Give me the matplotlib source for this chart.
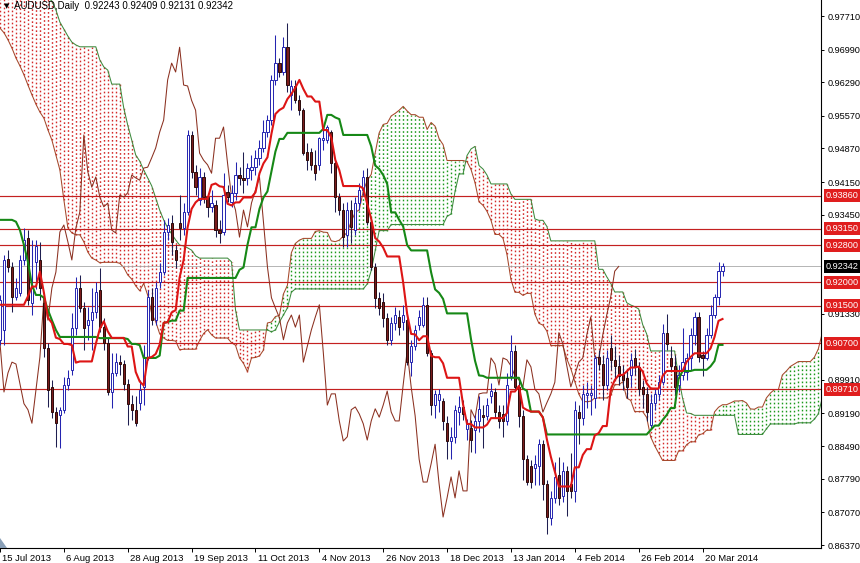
import numpy as np
import pandas as pd
import matplotlib
matplotlib.use("Agg")
import matplotlib.pyplot as plt
import matplotlib.transforms as mtransforms
from matplotlib.patches import Polygon

plt.rcParams['lines.scale_dashes'] = False
plt.rcParams['font.family'] = ['Liberation Sans', 'DejaVu Sans']

# ---------------- data (AUDUSD daily) ----------------
opens = [0.9077,0.9098,0.9250,0.9233,0.9169,0.9177,0.9248,0.9295,0.9156,0.9244,
         0.9248,0.9156,0.9059,0.8976,0.8922,0.8916,0.8927,0.8980,0.9012,0.9102,
         0.9188,0.9145,0.9109,0.9119,0.9136,0.9184,0.9104,0.9070,0.8965,0.9006,
         0.9029,0.9025,0.8982,0.8940,0.8927,0.8941,0.8976,0.9040,0.9169,0.9119,
         0.9201,0.9222,0.9308,0.9327,0.9269,0.9327,0.9316,0.9351,0.9516,0.9437,
         0.9377,0.9426,0.9383,0.9362,0.9366,0.9312,0.9308,0.9394,0.9372,0.9392,
         0.9430,0.9424,0.9424,0.9441,0.9447,0.9467,0.9488,0.9522,0.9548,0.9634,
         0.9670,0.9651,0.9704,0.9602,0.9621,0.9590,0.9569,0.9479,0.9479,0.9452,
         0.9452,0.9505,0.9505,0.9522,0.9456,0.9383,0.9355,0.9302,0.9355,0.9312,
         0.9370,0.9398,0.9426,0.9329,0.9233,0.9167,0.9158,0.9124,0.9077,0.9113,
         0.9126,0.9115,0.9119,0.9029,0.9064,0.9109,0.9109,0.9152,0.9049,0.8937,
         0.8948,0.8946,0.8899,0.8860,0.8869,0.8922,0.8933,0.8886,0.8888,0.8884,
         0.8903,0.8916,0.8914,0.8957,0.8965,0.8922,0.8918,0.8903,0.8999,0.9053,
         0.8976,0.8914,0.8821,0.8806,0.8802,0.8806,0.8853,0.8768,0.8695,0.8738,
         0.8787,0.8742,0.8796,0.8768,0.8753,0.8922,0.8909,0.8959,0.8959,0.8952,
         0.9040,0.9025,0.8980,0.9059,0.9034,0.9021,0.9004,0.8995,0.9002,0.9038,
         0.9019,0.8976,0.8961,0.8894,0.8942,0.8961,0.8986,0.9092,0.9038,0.9021,
         0.8980,0.9002,0.9008,0.9038,0.9087,0.9126,0.9045,0.9038,0.9087,0.9130,
         0.9169,0.92243]
highs = [0.9173,0.9259,0.9269,0.9243,0.9209,0.9259,0.9316,0.9312,0.9291,0.9291,
         0.9286,0.9173,0.9070,0.8991,0.8933,0.8933,0.8997,0.9012,0.9134,0.9211,
         0.9216,0.9158,0.9147,0.9188,0.9201,0.9231,0.9124,0.9083,0.9049,0.9049,
         0.9045,0.9034,0.8993,0.8959,0.8957,0.8991,0.9066,0.9184,0.9188,0.9201,
         0.9241,0.9334,0.9338,0.9344,0.9280,0.9387,0.9370,0.9527,0.9524,0.9452,
         0.9445,0.9437,0.9392,0.9398,0.9377,0.9334,0.9434,0.9409,0.9409,0.9458,
         0.9447,0.9479,0.9456,0.9473,0.9484,0.9505,0.9548,0.9559,0.9645,0.9730,
         0.9681,0.9726,0.9756,0.9634,0.9634,0.9602,0.9574,0.9499,0.9488,0.9484,
         0.9512,0.9527,0.9537,0.9527,0.9460,0.9392,0.9370,0.9372,0.9377,0.9383,
         0.9413,0.9441,0.9445,0.9334,0.9242,0.9179,0.9177,0.9134,0.9126,0.9147,
         0.9141,0.9152,0.9130,0.9077,0.9109,0.9141,0.9169,0.9169,0.9055,0.8969,
         0.8971,0.8952,0.8914,0.8890,0.8937,0.8956,0.8948,0.8907,0.8905,0.8916,
         0.8956,0.8937,0.8952,0.8984,0.8974,0.8937,0.8937,0.9006,0.9087,0.9066,
         0.8991,0.8927,0.8830,0.8819,0.8830,0.8864,0.8862,0.8776,0.8753,0.8815,
         0.8826,0.8815,0.8806,0.8834,0.8946,0.8937,0.8980,0.8986,0.8980,0.9045,
         0.9055,0.9045,0.9055,0.9087,0.9064,0.9045,0.9023,0.9015,0.9049,0.9057,
         0.9029,0.8991,0.8976,0.8961,0.8974,0.9002,0.9111,0.9132,0.9064,0.9045,
         0.9023,0.9102,0.9049,0.9102,0.9137,0.9137,0.9053,0.9102,0.9152,0.9175,
         0.9244,0.92409]
lows = [0.9066,0.9066,0.9222,0.9137,0.9162,0.9171,0.9237,0.9152,0.9130,0.9186,
        0.9162,0.9040,0.8933,0.8910,0.8847,0.8845,0.8920,0.8969,0.9002,0.9087,
        0.9137,0.9055,0.9077,0.9055,0.9124,0.9094,0.9055,0.8959,0.8931,0.9000,
        0.9002,0.8969,0.8894,0.8905,0.8892,0.8927,0.8937,0.9034,0.9109,0.9109,
        0.9188,0.9216,0.9291,0.9259,0.9231,0.9291,0.9302,0.9344,0.9424,0.9387,
        0.9366,0.9370,0.9340,0.9351,0.9297,0.9285,0.9302,0.9372,0.9362,0.9377,
        0.9409,0.9392,0.9409,0.9419,0.9430,0.9452,0.9479,0.9512,0.9537,0.9623,
        0.9640,0.9645,0.9608,0.9569,0.9584,0.9559,0.9473,0.9441,0.9441,0.9419,
        0.9441,0.9484,0.9499,0.9434,0.9351,0.9344,0.9276,0.9276,0.9285,0.9302,
        0.9355,0.9387,0.9323,0.9227,0.9145,0.9130,0.9104,0.9066,0.9066,0.9098,
        0.9087,0.9098,0.9023,0.9000,0.9055,0.9098,0.9104,0.9042,0.8916,0.8910,
        0.8922,0.8884,0.8822,0.8822,0.8856,0.8894,0.8905,0.8862,0.8836,0.8834,
        0.8879,0.8845,0.8905,0.8942,0.8909,0.8888,0.8869,0.8894,0.8991,0.8969,
        0.8890,0.8776,0.8766,0.8759,0.8766,0.8766,0.8734,0.8661,0.8680,0.8727,
        0.8723,0.8729,0.8699,0.8738,0.8729,0.8854,0.8894,0.8931,0.8916,0.8931,
        0.9012,0.8948,0.8969,0.9012,0.8991,0.8980,0.8969,0.8952,0.8976,0.9002,
        0.8959,0.8931,0.8903,0.8888,0.8927,0.8948,0.8980,0.9055,0.9008,0.8959,
        0.8965,0.8991,0.8991,0.9012,0.9066,0.9029,0.8999,0.9034,0.9081,0.9124,
        0.9152,0.92131]
closes = [0.9162,0.9248,0.9233,0.9169,0.9188,0.9248,0.9291,0.9162,0.9188,0.9278,
          0.9188,0.9059,0.8969,0.8922,0.8898,0.8927,0.8980,0.8995,0.9102,0.9188,
          0.9145,0.9102,0.9119,0.9136,0.9179,0.9104,0.9070,0.8965,0.9006,0.9029,
          0.9025,0.8982,0.8940,0.8927,0.8898,0.8969,0.9040,0.9169,0.9119,0.9188,
          0.9222,0.9308,0.9323,0.9287,0.9248,0.9316,0.9351,0.9516,0.9437,0.9404,
          0.9426,0.9383,0.9362,0.9370,0.9312,0.9306,0.9387,0.9383,0.9392,0.9430,
          0.9424,0.9419,0.9445,0.9447,0.9467,0.9488,0.9522,0.9548,0.9634,0.9670,
          0.9651,0.9704,0.9623,0.9621,0.9590,0.9569,0.9477,0.9462,0.9452,0.9434,
          0.9509,0.9509,0.9533,0.9456,0.9383,0.9355,0.9297,0.9355,0.9319,0.9370,
          0.9398,0.9426,0.9329,0.9233,0.9167,0.9145,0.9124,0.9077,0.9113,0.9130,
          0.9104,0.9130,0.9029,0.9064,0.9098,0.9126,0.9152,0.9049,0.8937,0.8961,
          0.8961,0.8903,0.8860,0.8869,0.8927,0.8933,0.8918,0.8897,0.8862,0.8903,
          0.8929,0.8911,0.8937,0.8967,0.8922,0.8903,0.8903,0.8980,0.9053,0.8976,
          0.8914,0.8821,0.8772,0.8772,0.8811,0.8853,0.8768,0.8697,0.8738,0.8783,
          0.8738,0.8796,0.8753,0.8753,0.8927,0.8909,0.8961,0.8963,0.8963,0.9038,
          0.9025,0.8980,0.9038,0.9034,0.9021,0.8999,0.8991,0.8976,0.9034,0.9019,
          0.8971,0.8961,0.8922,0.8942,0.8961,0.8986,0.9092,0.9068,0.9021,0.8976,
          0.9002,0.9029,0.9038,0.9087,0.9126,0.9040,0.9038,0.9087,0.9130,0.9169,
          0.9224,0.92342]

# Ichimoku values for the first bars (their look-back lies before the chart)
tenkan_head = [0.9152,0.9152,0.9152,0.9152,0.9152,0.9152,0.9152,0.9170]
kijun_head = [0.9334,0.9334,0.9334,0.9334,0.9330,0.9312,0.9280,0.9244,0.9194,0.9173,
              0.9173,0.9167,0.9141,0.9119,0.9098,0.9083,0.9083,0.9083,0.9083,0.9083,
              0.9083,0.9083,0.9083,0.9083,0.9083]
senkou_a_head = [0.9745,0.9735,0.9720,0.9702,0.9681,0.9664,0.9645,0.9623,0.9602,0.9582,
                 0.9565,0.9552,0.9527,0.9505,0.9473,0.9441,0.9377,0.9317,0.9306,0.9302,
                 0.9302,0.9287,0.9265,0.9252,0.9248,0.9242]
senkou_b_head = [0.9934,0.9923,0.9912,0.9902,0.9891,0.9880,0.9870,0.9859,0.9848,0.9837,
                 0.9827,0.9818,0.9810,0.9803,0.9784,0.9758,0.9743,0.9728,0.9715,0.9709,
                 0.9705,0.9705,0.9705,0.9705,0.9705,0.9677,0.9662,0.9655,0.9625,0.9625,
                 0.9625,0.9574,0.9537,0.9505,0.9473,0.9460,0.9441,0.9424,0.9407,0.9381,
                 0.9355,0.9334,0.9317,0.9304,0.9291,0.9280,0.9278,0.9274,0.9269,0.9257,
                 0.9252,0.9252,0.9252,0.9252,0.9252,0.9252,0.9252,0.9252,0.9244,0.9141,
                 0.9098,0.9098,0.9098,0.9098,0.9098,0.9098,0.9098,0.9098,0.9094,0.9098,
                 0.9115,0.9130,0.9145,0.9179,0.9186,0.9186,0.9186]

level_lines = [0.9386, 0.9315, 0.9280, 0.9200, 0.9150, 0.9070, 0.8971]
price_ticks = [0.9771,0.9699,0.9629,0.9557,0.9487,0.9415,0.9345,
               0.9133,0.8991,0.8919,0.8849,0.8779,0.8707,0.8637]
date_labels = ["15 Jul 2013","6 Aug 2013","28 Aug 2013","19 Sep 2013","11 Oct 2013",
               "4 Nov 2013","26 Nov 2013","18 Dec 2013","13 Jan 2014","4 Feb 2014",
               "26 Feb 2014","20 Mar 2014"]
date_bar_index = [0,16,32,48,64,80,96,112,128,144,160,176]
last_price = 0.92342
title = "AUDUSD,Daily  0.92243 0.92409 0.92131 0.92342"

# ---------------- indicator lines ----------------
o = np.array(opens); h = np.array(highs); l = np.array(lows); c = np.array(closes)
n = len(c)
H = pd.Series(h); L = pd.Series(l)
tenkan = ((H.rolling(9).max() + L.rolling(9).min()) / 2).to_numpy()
tenkan[:len(tenkan_head)] = tenkan_head
kijun = ((H.rolling(26).max() + L.rolling(26).min()) / 2).to_numpy()
kijun[:len(kijun_head)] = kijun_head
mid52 = ((H.rolling(52).max() + L.rolling(52).min()) / 2).to_numpy()

span_a = np.empty(n + 26)
span_a[:26] = senkou_a_head
span_a[26:] = (tenkan + kijun) / 2
span_b = np.empty(n + 26)
nb = len(senkou_b_head)
span_b[:nb] = senkou_b_head
span_b[nb:] = mid52[nb - 26:]
xs_cloud = np.arange(n + 26)

# ---------------- figure ----------------
W, Hpx = 860, 563
fig = plt.figure(figsize=(W / 100, Hpx / 100), dpi=100)
ax_l, ax_r, ax_t, ax_b = 0, 821, 0, 548
ax = fig.add_axes([ax_l / W, (Hpx - ax_b) / Hpx, (ax_r - ax_l) / W, (ax_b - ax_t) / Hpx])
ax.set_facecolor('white')

x0 = -1.7  # pixel of bar 0
ax.set_xlim((0 - x0) / 4.0, (821 - x0) / 4.0)
ax.set_ylim(0.86306, 0.98053)

# cloud (dotted vertical strokes, one per bar)
red_mask = span_b >= span_a
lo = np.minimum(span_a, span_b); hi = np.maximum(span_a, span_b)
dot = (0, (1.2, 1.7))
ax.vlines(xs_cloud[red_mask], lo[red_mask], hi[red_mask], colors='#d42a2a',
          linewidth=1.0, linestyles=[dot], zorder=1)
ax.vlines(xs_cloud[~red_mask], lo[~red_mask], hi[~red_mask], colors='#1e9a1e',
          linewidth=1.0, linestyles=[dot], zorder=1)
ax.plot(xs_cloud, span_a, color='#a5472a', lw=0.75, zorder=1.5)
ax.plot(xs_cloud, span_b, color='#3d8a3d', lw=0.75, zorder=1.5)

# horizontal levels
for lv in level_lines:
    ax.axhline(lv, color='#c42020', lw=0.85, zorder=2)
ax.axhline(last_price, color='#a8a8a8', lw=0.6, zorder=2)

# chikou
idx = np.arange(n)
ax.plot(idx[:n - 26], c[26:], color='#8b3020', lw=0.75, zorder=2.5)

# candles
up = c >= o
ax.vlines(idx[up], l[up], h[up], colors='#2424b0', lw=0.75, zorder=3)
ax.vlines(idx[~up], l[~up], h[~up], colors='#1e1e50', lw=0.75, zorder=3)
body_lo = np.minimum(o, c); body_h = np.maximum(np.abs(c - o), 0.00008)
ax.bar(idx[up], body_h[up], bottom=body_lo[up], width=0.55, color='white',
       edgecolor='#2424b0', linewidth=0.7, zorder=3.2)
ax.bar(idx[~up], body_h[~up], bottom=body_lo[~up], width=0.55, color='#7a1c1c',
       edgecolor='#2a0a0a', linewidth=0.7, zorder=3.2)

# tenkan / kijun
ax.plot(idx, kijun, color='#168816', lw=1.5, zorder=4)
ax.plot(idx, tenkan, color='#dd1515', lw=1.5, zorder=4.1)

# axes styling
for s in ['left', 'top']:
    ax.spines[s].set_visible(False)
for s in ['right', 'bottom']:
    ax.spines[s].set_color('black')
    ax.spines[s].set_linewidth(0.8)

ax.yaxis.tick_right()
ax.set_yticks(price_ticks)
ax.set_yticklabels([f"{p:.5f}" for p in price_ticks])
ax.tick_params(axis='y', direction='out', length=2.5, width=0.7, pad=2,
               labelsize=6.6, colors='black')

ax.set_xticks(date_bar_index)
ax.set_xticklabels(date_labels, ha='left')
ax.tick_params(axis='x', direction='out', length=3, width=0.7, pad=1.5,
               labelsize=6.8, colors='black')
offset = mtransforms.ScaledTranslation(2.5 / 100, 0, fig.dpi_scale_trans)
for lab in ax.get_xticklabels():
    lab.set_transform(lab.get_transform() + offset)

# price boxes on the right scale
tr = mtransforms.blended_transform_factory(ax.transAxes, ax.transData)
for lv in level_lines:
    ax.text(1 + 5 / 821, lv, f"{lv:.5f}", transform=tr, ha='left', va='center',
            color='white', fontsize=6.6, clip_on=False, zorder=10,
            bbox=dict(boxstyle='square,pad=0.22', fc='#e01e1e', ec='none'))
ax.text(1 + 5 / 821, last_price, f"{last_price:.5f}", transform=tr, ha='left',
        va='center', color='white', fontsize=6.6, clip_on=False, zorder=10,
        bbox=dict(boxstyle='square,pad=0.22', fc='black', ec='none'))

# title
ax.text(4 / 821, 1 - 6 / 548, "\u25BC", transform=ax.transAxes, ha='left', va='center',
        fontsize=5, color='black', family=['DejaVu Sans'], zorder=10)
ax.text(14 / 821, 1 - 6 / 548, title, transform=ax.transAxes, ha='left', va='center',
        fontsize=7, color='black', zorder=10)

# chart-shift marker in the lower-left corner
fig.patches.append(Polygon([[0, 15 / Hpx], [0, 25 / Hpx], [7 / W, 15 / Hpx]],
                           closed=True, transform=fig.transFigure,
                           fc='#8aa0b8', ec='none'))

fig.savefig("out.png", dpi=100, facecolor='white')
